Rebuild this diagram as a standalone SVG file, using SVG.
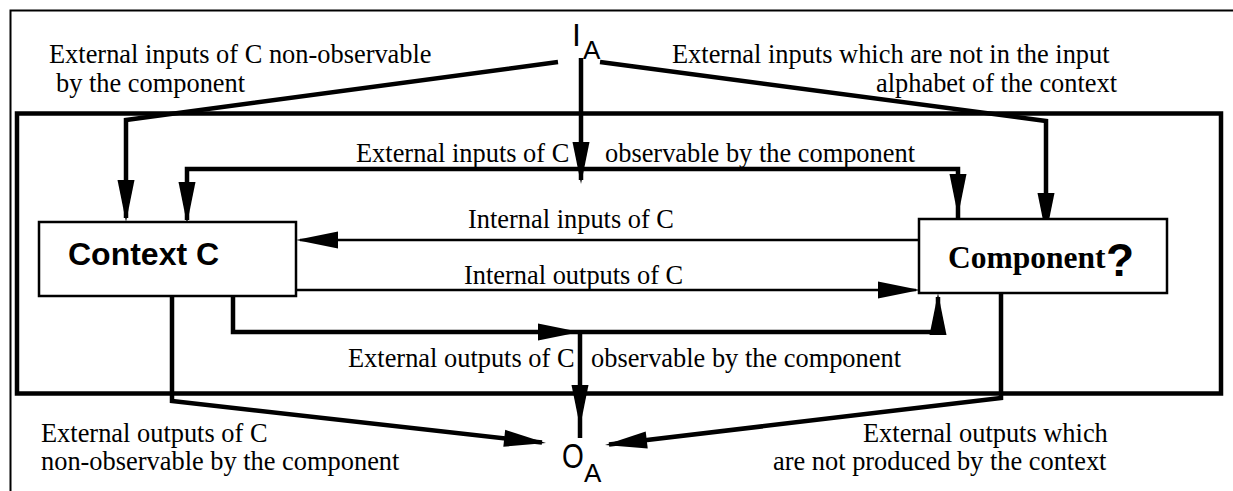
<svg xmlns="http://www.w3.org/2000/svg" width="1233" height="491" viewBox="0 0 1233 491">
<style>
.t{font-family:"Liberation Serif","Times New Roman",serif;font-size:26.4px;fill:#000}
.s{font-family:"Liberation Sans",Arial,sans-serif;fill:#000}
.thick{fill:none;stroke:#000;stroke-width:4.5;stroke-linejoin:miter}
.thin{fill:none;stroke:#000;stroke-width:2.5}
.box{fill:#fff;stroke:#000;stroke-width:2.5}
</style>
<defs>
<path id="ah" d="M0,0 L-42,-8.5 L-42,8.5 Z" fill="#000"/>
</defs>
<rect width="1233" height="491" fill="#fff"/>
<g id="frame">
<path d="M10.5,491 V10.5 H1233" fill="none" stroke="#000" stroke-width="2"/>
<rect x="17" y="113.5" width="1204" height="280" class="thick"/>
</g>
<g id="connectors">
<polyline class="thick" points="558,62 126,120 126,218"/>
<use href="#ah" transform="translate(126,222) rotate(90)"/>
<polyline class="thick" points="600,62 1046,121 1046,230"/>
<use href="#ah" transform="translate(1046,235) rotate(90)"/>
<line class="thick" x1="581" y1="58" x2="581" y2="180"/>
<use href="#ah" transform="translate(581,184) rotate(90)"/>
<polyline class="thick" points="187,220 187,169 958,169 958,219"/>
<use href="#ah" transform="translate(187,224) rotate(90)"/>
<use href="#ah" transform="translate(958,216) rotate(90)"/>
<line class="thin" x1="923" y1="240" x2="300" y2="240"/>
<use href="#ah" transform="translate(296,240) rotate(180)"/>
<line class="thin" x1="296" y1="290" x2="916" y2="290"/>
<use href="#ah" transform="translate(920,290)"/>
<polyline class="thick" points="233,294 233,332 938,332 938,297"/>
<use href="#ah" transform="translate(580,332)"/>
<use href="#ah" transform="translate(938,293) rotate(-90)"/>
<line class="thick" x1="580" y1="332" x2="580" y2="438"/>
<use href="#ah" transform="translate(580,427) rotate(90)"/>
<polyline class="thick" points="172,294 172,401 542,442.5"/>
<use href="#ah" transform="translate(546,443) rotate(6.4)"/>
<polyline class="thick" points="1001,293 1001,398 609,444.5"/>
<use href="#ah" transform="translate(605,445) rotate(173.2)"/>
</g>
<g id="context">
<rect class="box" x="39" y="222" width="257" height="74"/>
<text class="s" x="68" y="265" font-size="32" font-weight="bold">Context C</text>
</g>
<g id="component">
<rect class="box" x="919" y="219" width="248" height="74"/>
<text class="t" x="948" y="268" font-weight="bold" style="font-size:31.5px">Component</text>
<text class="s" x="1106" y="276" font-size="46" font-weight="bold">?</text>
</g>
<g id="IA">
<text class="s" x="572" y="46" font-size="32">I</text>
<text class="s" x="583" y="59" font-size="26">A</text>
</g>
<g id="OA">
<text class="s" transform="translate(562,468) scale(0.8,1)" font-size="35">O</text>
<text class="s" x="584" y="482" font-size="26">A</text>
</g>
<g id="labels">
<text class="t" x="49" y="63">External inputs of C non-observable</text>
<text class="t" x="56" y="92">by the component</text>
<text class="t" x="672" y="63">External inputs which are not in the input</text>
<text class="t" x="876" y="92">alphabet of the context</text>
<text class="t" x="356" y="162">External inputs of C</text>
<text class="t" x="605" y="162">observable by the component</text>
<text class="t" x="468" y="228">Internal inputs of C</text>
<text class="t" x="464" y="284">Internal outputs of C</text>
<text class="t" x="348" y="367">External outputs of C</text>
<text class="t" x="591" y="367">observable by the component</text>
<text class="t" x="41" y="442">External outputs of C</text>
<text class="t" x="41" y="470">non-observable by the component</text>
<text class="t" x="863" y="442">External outputs which</text>
<text class="t" x="773" y="470">are not produced by the context</text>
</g>
</svg>
